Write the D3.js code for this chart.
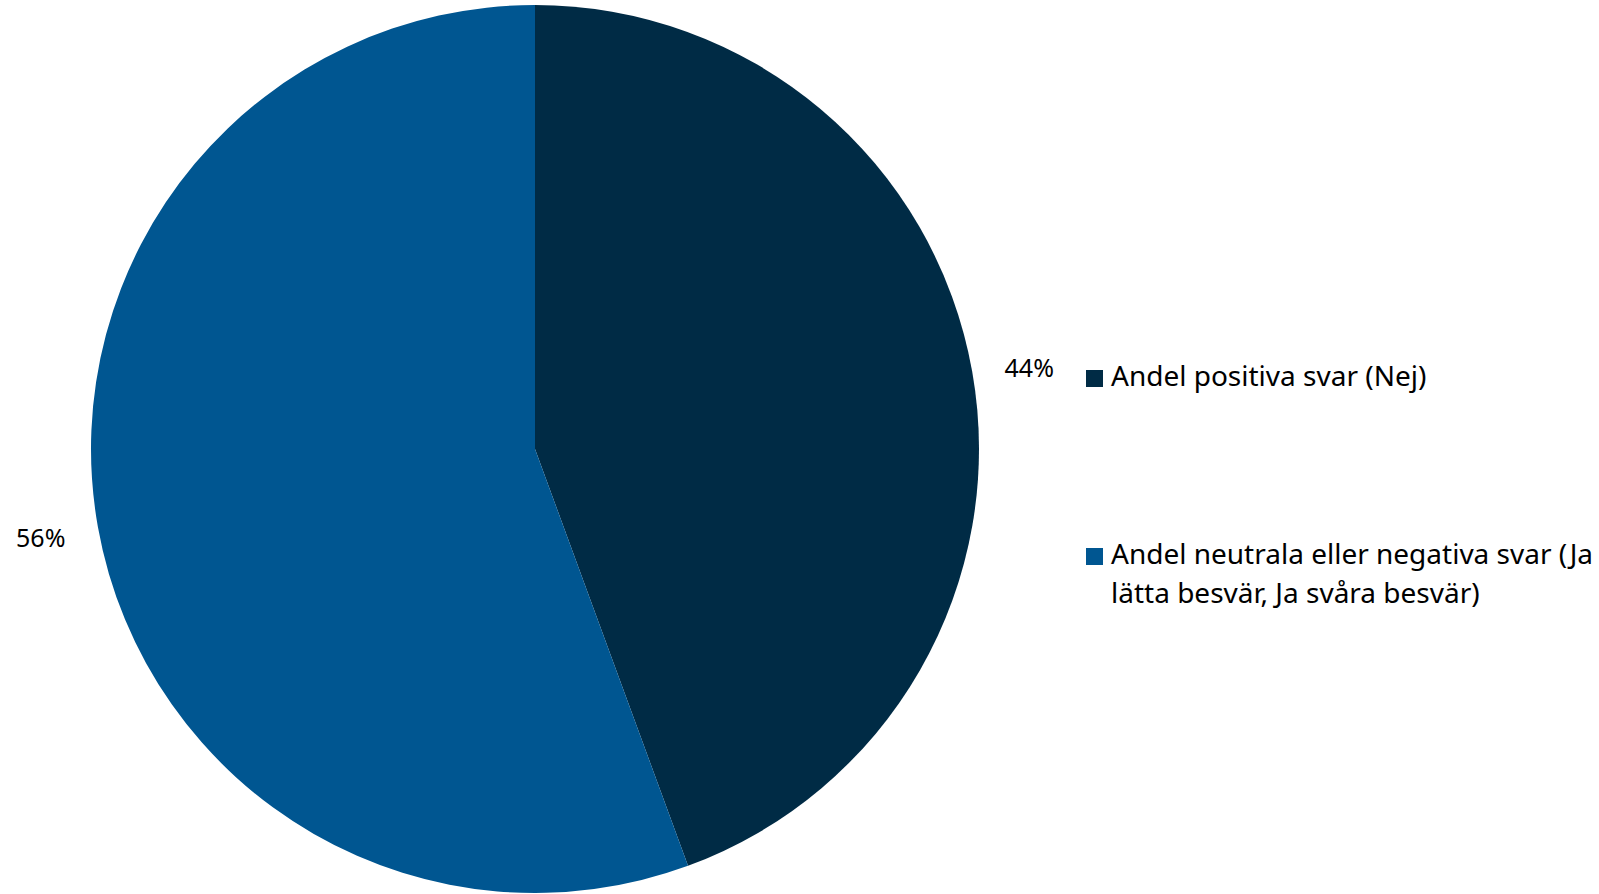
<!DOCTYPE html>
<html>
<head>
<meta charset="utf-8">
<script src="https://cdn.jsdelivr.net/npm/d3@7"></script>
<style>
  html, body { margin: 0; padding: 0; background: #ffffff; }
  svg { display: block; }
  text { font-family: "Noto Sans", "Open Sans", sans-serif; fill: #000; }
</style>
</head>
<body>
<svg id="chart" width="1599" height="894"></svg>
<script>
const categories = ["Andel positiva svar (Nej)", "Andel neutrala eller negativa svar (Ja lätta besvär, Ja svåra besvär)"];
const legendLines = [["Andel positiva svar (Nej)"], ["Andel neutrala eller negativa svar (Ja", "lätta besvär, Ja svåra besvär)"]];
const values = [44.4, 55.6];
const valueLabels = ["44%", "56%"];
const colors = ["#002b45", "#005691"];

const svg = d3.select("#chart");
const cx = 535, cy = 449, r = 444;

const pie = d3.pie().sort(null).value(d => d)(values);
const arc = d3.arc().innerRadius(0).outerRadius(r);
const labelArc = d3.arc().innerRadius(r + 58).outerRadius(r + 58);

const g = svg.append("g").attr("transform", `translate(${cx},${cy})`);
g.selectAll("path").data(pie).join("path")
  .attr("d", arc)
  .attr("fill", (d, i) => colors[i]);

g.selectAll("text.lbl").data(pie).join("text")
  .attr("class", "lbl")
  .attr("transform", d => { const c = labelArc.centroid(d); return `translate(${c[0]},${c[1] + (d.index === 0 ? 6 : 0)})`; })
  .attr("text-anchor", "middle")
  .attr("dominant-baseline", "central")
  .style("font-size", "25px")
  .text((d, i) => valueLabels[i]);

const legendY = [370, 548];
const lg = svg.append("g");
categories.forEach((c, i) => {
  lg.append("rect")
    .attr("x", 1086).attr("y", legendY[i])
    .attr("width", 17).attr("height", 17)
    .attr("fill", colors[i]);
  const t = lg.append("text")
    .attr("x", 1111).attr("y", legendY[i] + 16)
    .style("font-size", "28px");
  legendLines[i].forEach((line, j) => {
    t.append("tspan").attr("x", 1111).attr("dy", j === 0 ? 0 : 39).text(line);
  });
});
</script>
</body>
</html>
